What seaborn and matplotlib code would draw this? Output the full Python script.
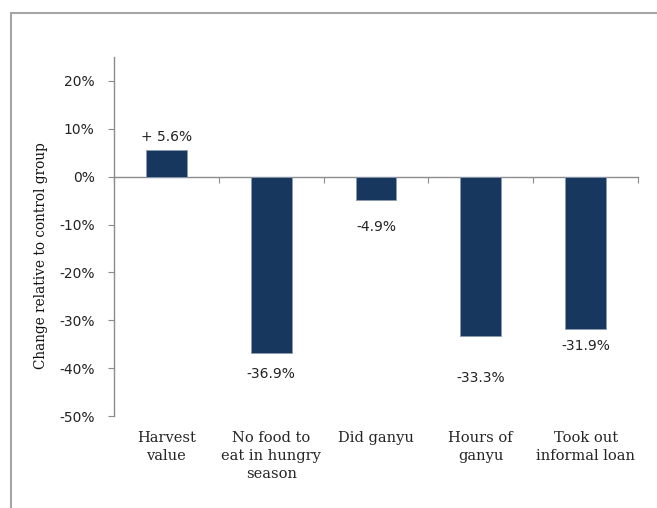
import numpy as np
import pandas as pd
import seaborn as sns
import matplotlib.pyplot as plt
from matplotlib.patches import Rectangle
from matplotlib.ticker import PercentFormatter, NullFormatter

# values
categories = ["Harvest\nvalue", "No food to\neat in hungry\nseason", "Did ganyu",
              "Hours of\nganyu", "Took out\ninformal loan"]
change = [5.6, -36.9, -4.9, -33.3, -31.9]
bar_labels = ["+ 5.6%", "-36.9%", "-4.9%", "-33.3%", "-31.9%"]
# label offset from bar end, in points (Excel labels were nudged by hand)
label_offsets = [9, -15, -19, -30, -12]

bar_color = "#17375E"
axis_grey = "#8C8C8C"

sns.set_style("white")
plt.rcParams['font.family'] = ['DejaVu Sans']
plt.rcParams['axes.unicode_minus'] = False

df = pd.DataFrame({"category": categories, "change": change})

fig = plt.figure(figsize=(6.57, 5.08), dpi=100)
ax = fig.add_axes([0.1735, 0.1811, 0.7976, 0.7067])

sns.barplot(data=df, x="category", y="change", color=bar_color, width=0.39,
            saturation=1, edgecolor="#8A9BB3", linewidth=0.6, ax=ax)

ymin, ymax = -50, 25
ax.set_ylim(ymin, ymax)
ax.set_xlim(-0.5, len(categories) - 0.5)
ax.set_yticks(np.arange(-50, 21, 10))
ax.yaxis.set_major_formatter(PercentFormatter(decimals=0))
ax.tick_params(axis="y", length=4, width=0.8, color=axis_grey, pad=10,
               labelsize=10, labelcolor="#222222", left=True)

# category labels along the bottom of the axes
ax.tick_params(axis="x", length=0, pad=11)
for lab in ax.get_xticklabels():
    lab.set_family("DejaVu Serif")
    lab.set_fontsize(10.5)
    lab.set_linespacing(1.35)
    lab.set_verticalalignment("top")
ax.set_xlabel("")

ax.set_ylabel("Change relative to control group", family="DejaVu Serif",
              fontsize=9.8, color="#111111")
ax.yaxis.set_label_coords(-0.125, 0.446)

for side in ["top", "right", "bottom"]:
    ax.spines[side].set_visible(False)
ax.spines["left"].set_color(axis_grey)
ax.spines["left"].set_linewidth(1)

# zero line with tick marks between categories
zero_pos = (0 - ymin) / (ymax - ymin)
sec = ax.secondary_xaxis(zero_pos)
for sp in sec.spines.values():
    sp.set_color(axis_grey)
    sp.set_linewidth(1)
sec.set_xticks(np.arange(len(categories) + 1) - 0.5)
sec.xaxis.set_major_formatter(NullFormatter())
sec.tick_params(axis="x", length=4, width=0.8, color=axis_grey, direction="in")

# data labels
for i, (v, txt, off) in enumerate(zip(change, bar_labels, label_offsets)):
    ax.annotate(txt, (i, v), xytext=(0, off), textcoords="offset points",
                ha="center", va="center", fontsize=10, color="#222222")

# outer chart frame (cropped at right and bottom in the original)
fig.patches.append(Rectangle((0.0167, -0.1), 1.2, 1.074, transform=fig.transFigure,
                             fill=False, edgecolor="#A6A6A6", linewidth=1.5))

fig.savefig("out.png", dpi=100)
